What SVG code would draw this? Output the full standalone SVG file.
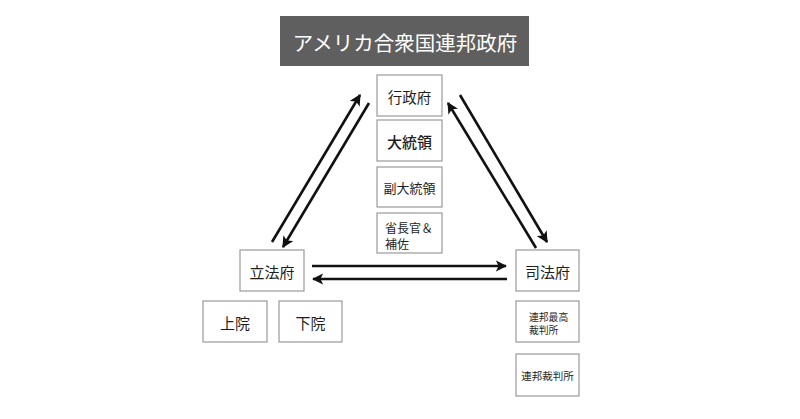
<svg xmlns="http://www.w3.org/2000/svg" width="800" height="419" viewBox="0 0 800 419">
<style>
.box{fill:#fff;stroke:#9a9a9a;stroke-width:1.2}
.t{font-family:"Noto Sans CJK JP","Noto Sans",sans-serif;fill:#1e1e1e;text-anchor:middle;dominant-baseline:central}
.tl{font-family:"Noto Sans CJK JP","Noto Sans",sans-serif;fill:#1e1e1e}
.ar{stroke:#111;stroke-width:2.6;fill:none;marker-end:url(#ah)}
</style>
<defs>
<marker id="ah" viewBox="0 0 10 10" refX="9" refY="5" markerWidth="4.4" markerHeight="4.4" orient="auto" markerUnits="strokeWidth">
<path d="M0,0 L10,5 L0,10 L2.5,5 Z" fill="#111"/>
</marker>
</defs>
<rect width="800" height="419" fill="#fff"/>
<g id="title">
<rect x="280" y="16" width="249" height="50" fill="#5f5f5f"/>
<text class="t" x="405" y="42" style="font-size:20.5px;fill:#fff">アメリカ合衆国連邦政府</text>
</g>
<g id="executive">
<rect class="box" x="377" y="75" width="65" height="41"/>
<text class="t" x="409.5" y="96" style="font-size:14.5px">行政府</text>
</g>
<g id="president">
<rect class="box" x="377" y="120" width="65" height="41"/>
<text class="t" x="409.5" y="141" style="font-size:15px;font-weight:500">大統領</text>
</g>
<g id="vice-president">
<rect class="box" x="377" y="167" width="65" height="40"/>
<text class="t" x="409.5" y="187" style="font-size:13px">副大統領</text>
</g>
<g id="secretaries">
<rect class="box" x="377" y="213" width="65" height="40"/>
<text class="tl" style="font-size:12px"><tspan x="385" y="233">省長官＆</tspan><tspan x="385" y="248.5">補佐</tspan></text>
</g>
<g id="legislative">
<rect class="box" x="240" y="250" width="64" height="41"/>
<text class="t" x="272" y="271" style="font-size:15px">立法府</text>
</g>
<g id="senate">
<rect class="box" x="203" y="301" width="64" height="41"/>
<text class="t" x="235" y="322" style="font-size:15px">上院</text>
</g>
<g id="house">
<rect class="box" x="279" y="301" width="63" height="41"/>
<text class="t" x="310.5" y="322" style="font-size:15px">下院</text>
</g>
<g id="judicial">
<rect class="box" x="516" y="250" width="63" height="41"/>
<text class="t" x="547.5" y="271" style="font-size:15px">司法府</text>
</g>
<g id="supreme-court">
<rect class="box" x="516" y="301" width="63" height="41"/>
<text class="tl" style="font-size:9.8px"><tspan x="529" y="321">連邦最高</tspan><tspan x="529" y="334">裁判所</tspan></text>
</g>
<g id="federal-courts">
<rect class="box" x="516" y="354" width="63" height="42"/>
<text class="t" x="547.5" y="375" style="font-size:10.5px">連邦裁判所</text>
</g>
<g id="connectors">
<line class="ar" x1="272" y1="242" x2="360" y2="95"/>
<line class="ar" x1="369" y1="103" x2="283" y2="247"/>
<line class="ar" x1="460" y1="95" x2="547" y2="242"/>
<line class="ar" x1="536" y1="248" x2="448" y2="103"/>
<line class="ar" x1="312" y1="266" x2="506" y2="266"/>
<line class="ar" x1="507" y1="279" x2="313" y2="279"/>
</g>
</svg>
